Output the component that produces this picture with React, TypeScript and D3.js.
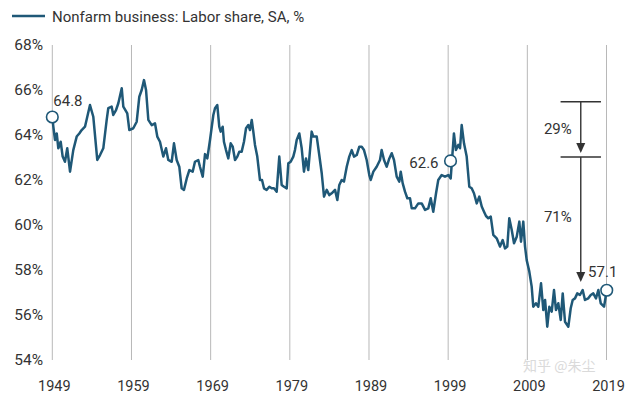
import React from "react";
import * as d3 from "d3";

// quarter positions (decimal year) and labor share
const years = [
  1949.0, 1949.13, 1949.34, 1949.56, 1949.76, 1950.06, 1950.31, 1950.6, 1950.89, 1951.24,
  1951.65, 1952.08, 1952.41, 1952.71, 1953.13, 1953.76, 1954.18, 1954.68, 1955.03, 1955.44,
  1955.87, 1956.07, 1956.5, 1956.7, 1957.05, 1957.34, 1957.77, 1957.97, 1958.47, 1958.73,
  1959.23, 1959.66, 1959.99, 1960.29, 1960.58, 1960.84, 1961.13, 1961.56, 1961.97, 1962.26,
  1962.6, 1963.02, 1963.36, 1963.65, 1964.08, 1964.37, 1964.71, 1965.04, 1965.34, 1965.63,
  1965.98, 1966.31, 1966.73, 1967.02, 1967.44, 1967.65, 1968.0, 1968.29, 1968.58, 1968.92,
  1969.34, 1969.55, 1969.84, 1970.09, 1970.27, 1970.52, 1970.68, 1970.94, 1971.23, 1971.53,
  1971.79, 1972.08, 1972.37, 1972.62, 1972.92, 1973.21, 1973.47, 1973.76, 1973.97, 1974.19,
  1974.39, 1974.6, 1974.89, 1975.23, 1975.49, 1975.74, 1976.07, 1976.41, 1976.71, 1977.0,
  1977.34, 1977.67, 1977.97, 1978.27, 1978.61, 1978.81, 1979.11, 1979.44, 1979.65, 1979.87,
  1980.2, 1980.5, 1980.79, 1981.04, 1981.33, 1981.76, 1981.96, 1982.4, 1982.72, 1983.03,
  1983.32, 1983.66, 1983.99, 1984.29, 1984.71, 1985.0, 1985.25, 1985.55, 1985.84, 1986.19,
  1986.51, 1986.82, 1987.11, 1987.45, 1987.78, 1988.08, 1988.37, 1988.71, 1989.04, 1989.22,
  1989.55, 1989.97, 1990.39, 1990.6, 1990.9, 1991.24, 1991.57, 1991.87, 1992.16, 1992.5,
  1992.83, 1993.01, 1993.26, 1993.55, 1993.84, 1994.18, 1994.4, 1994.81, 1995.23, 1995.66,
  1996.08, 1996.49, 1996.8, 1997.12, 1997.47, 1997.75, 1998.18, 1998.6, 1999.02, 1999.32,
  1999.73, 1999.98, 2000.28, 2000.5, 2000.71, 2001.0, 2001.34, 2001.67, 2001.97, 2002.26,
  2002.61, 2002.93, 2003.24, 2003.53, 2003.78, 2004.07, 2004.38, 2004.7, 2005.13, 2005.55,
  2005.89, 2006.18, 2006.47, 2006.72, 2007.03, 2007.32, 2007.66, 2007.99, 2008.2, 2008.49,
  2008.71, 2008.92, 2009.25, 2009.55, 2009.75, 2010.09, 2010.39, 2010.73, 2011.02, 2011.24,
  2011.52, 2011.78, 2012.08, 2012.37, 2012.62, 2012.91, 2013.22, 2013.47, 2013.76, 2014.18,
  2014.48, 2014.73, 2015.02, 2015.31, 2015.65, 2015.99, 2016.28, 2016.7, 2017.01, 2017.33,
  2017.67, 2017.97, 2018.27, 2018.69, 2019.03,
];

const laborShare = [
  64.8, 64.37, 63.78, 64.07, 63.41, 63.7, 63.04, 62.81, 63.41, 62.37,
  63.33, 63.93, 64.07, 64.22, 64.37, 65.33, 64.81, 62.89, 63.11, 63.41,
  64.67, 65.19, 65.26, 64.89, 65.11, 65.41, 66.08, 65.26, 64.96, 64.22,
  64.3, 64.59, 65.7, 66.0, 66.44, 66.0, 64.67, 64.44, 64.52, 63.93,
  63.7, 63.04, 63.41, 62.89, 62.81, 63.63, 62.89, 62.59, 61.63, 61.56,
  62.07, 62.44, 62.37, 62.81, 62.89, 62.59, 62.15, 63.15, 62.96, 63.78,
  64.89, 65.19, 65.33, 64.37, 64.15, 64.37, 63.7, 63.33, 62.96, 63.63,
  63.48, 62.89, 63.04, 63.26, 63.26, 63.7, 64.3, 64.44, 64.22, 64.67,
  64.15, 63.56, 63.04, 62.0, 62.0, 61.63, 61.56, 61.7, 61.63, 61.63,
  61.48, 63.04, 61.78, 61.7, 61.63, 62.74, 62.81, 63.04, 63.33, 63.78,
  64.07, 63.41, 62.37, 62.96, 62.44, 64.15, 63.93, 63.93, 63.11, 62.3,
  61.26, 61.56, 61.33, 61.41, 61.56, 61.11, 61.78, 62.0, 61.93, 62.59,
  63.04, 63.33, 63.04, 63.11, 63.48, 63.48, 63.33, 62.89, 62.22, 62.0,
  62.37, 62.59, 62.89, 63.33, 62.89, 62.59, 62.96, 63.19, 62.89, 62.15,
  61.93, 62.37, 61.85, 61.48, 61.19, 61.19, 60.74, 60.74, 60.96, 60.96,
  60.67, 60.74, 61.19, 60.59, 61.41, 62.0, 62.22, 62.15, 62.22, 62.07,
  64.07, 63.33, 63.56, 63.41, 64.44, 63.63, 63.04, 61.7, 61.63, 61.41,
  60.96, 61.26, 60.82, 60.59, 60.4, 60.3, 60.37, 59.56, 59.41, 59.04,
  59.33, 58.96, 59.04, 60.3, 59.78, 59.19, 59.48, 60.15, 59.26, 60.15,
  59.04, 58.44, 57.93, 57.26, 56.37, 56.52, 56.37, 57.41, 56.22, 56.67,
  55.48, 56.37, 56.15, 57.11, 56.22, 56.52, 55.78, 56.96, 55.7, 55.48,
  56.3, 56.67, 56.74, 56.96, 56.89, 57.11, 56.67, 56.74, 56.89, 56.96,
  56.74, 57.11, 56.52, 56.37, 57.1,
];

const decadeTicks = [1949, 1959, 1969, 1979, 1989, 1999, 2009, 2019];
const percentTicks = [68, 66, 64, 62, 60, 58, 56, 54];

// highlighted points
const markYears = [1949.0, 1999.3, 2019.03];
const markValues = [64.8, 62.85, 57.1];
const markLabels = ["64.8", "62.6", "57.1"];

// the decline split: top, middle and bottom of the arrows
const splitYear = 2015.75;
const splitLevels = [65.48, 63.02, 57.47];
const splitShares = ["29%", "71%"];

const legendText = "Nonfarm business: Labor share, SA, %";
const watermark = "知乎 @朱尘";

const W = 640, H = 401;
const LINE = "#1f5877";
const INK = "#333333";
const FONT = "Roboto, 'Open Sans', sans-serif";

export default function App() {
  const x = d3.scaleLinear().domain([1949, 2019]).range([52.3, 606.5]);
  const y = d3.scaleLinear().domain([54, 68]).range([360, 45]);

  const pts: [number, number][] = years.map((yr, i) => [yr, laborShare[i]]);
  const path = d3.line<[number, number]>()
    .x(d => x(d[0]))
    .y(d => y(d[1]))(pts) || "";

  // label offsets per marker (left, middle, right)
  const labelPos = [
    { dx: 1, dy: -16, anchor: "start" },
    { dx: -12, dy: 2, anchor: "end" },
    { dx: -4, dy: -19, anchor: "middle" },
  ];

  const ax = x(splitYear);
  const arrowHead = (tipY: number) =>
    `M${ax - 4.5},${tipY - 10}L${ax + 4.5},${tipY - 10}L${ax},${tipY}Z`;

  return (
    <div style={{ position: "absolute", left: 0, top: 0 }}>
      <svg width={W} height={H} style={{ display: "block", background: "#fff" }} fontFamily={FONT}>
        {/* legend */}
        <line x1={12} x2={45} y1={16} y2={16} stroke={LINE} strokeWidth={2.5} />
        <text x={52} y={22} fontSize={15} fill={INK}>{legendText}</text>

        {/* watermark */}
        <text x={523} y={371} fontSize={14} fill="#dadada" fontFamily="'Noto Sans CJK SC', sans-serif">{watermark}</text>

        {/* vertical gridlines + year labels */}
        {decadeTicks.map(t => (
          <g key={t}>
            <line x1={x(t)} x2={x(t)} y1={y(68)} y2={y(54)} stroke="#b8b8b8" strokeWidth={1} />
            <text x={x(t) + 2} y={391} fontSize={14.5} fill={INK} textAnchor="middle">{t}</text>
          </g>
        ))}

        {/* y labels */}
        {percentTicks.map(t => (
          <text key={t} x={43} y={y(t)} dy="0.35em" fontSize={15.5} fill={INK} textAnchor="end">{t}%</text>
        ))}

        {/* series */}
        <path d={path} fill="none" stroke={LINE} strokeWidth={2.5} strokeLinejoin="round" />

        {/* split arrows */}
        {splitLevels.slice(0, 2).map(v => (
          <line key={v} x1={x(2013.2)} x2={x(2018.3)} y1={y(v)} y2={y(v)} stroke={INK} strokeWidth={1.4} />
        ))}
        {splitShares.map((s, i) => {
          const y0 = y(splitLevels[i]);
          const tip = y(splitLevels[i + 1]) - (i === 0 ? 4 : 0);
          return (
            <g key={s}>
              <line x1={ax} x2={ax} y1={y0} y2={tip - 8} stroke={INK} strokeWidth={1.4} />
              <path d={arrowHead(tip)} fill={INK} />
              <text x={ax - 9} y={(y0 + tip) / 2 + (i === 0 ? 1 : -3)} dy="0.35em" fontSize={15} fill={INK} textAnchor="end">{s}</text>
            </g>
          );
        })}

        {/* highlighted points */}
        {markYears.map((yr, i) => (
          <g key={yr}>
            <circle cx={x(yr)} cy={y(markValues[i])} r={5.8} fill="#fff" stroke={LINE} strokeWidth={1.6} />
            <text x={x(yr) + labelPos[i].dx} y={y(markValues[i]) + labelPos[i].dy} fontSize={15} fill={INK}
              textAnchor={labelPos[i].anchor as any} dy="0.35em">{markLabels[i]}</text>
          </g>
        ))}
      </svg>
    </div>
  );
}
